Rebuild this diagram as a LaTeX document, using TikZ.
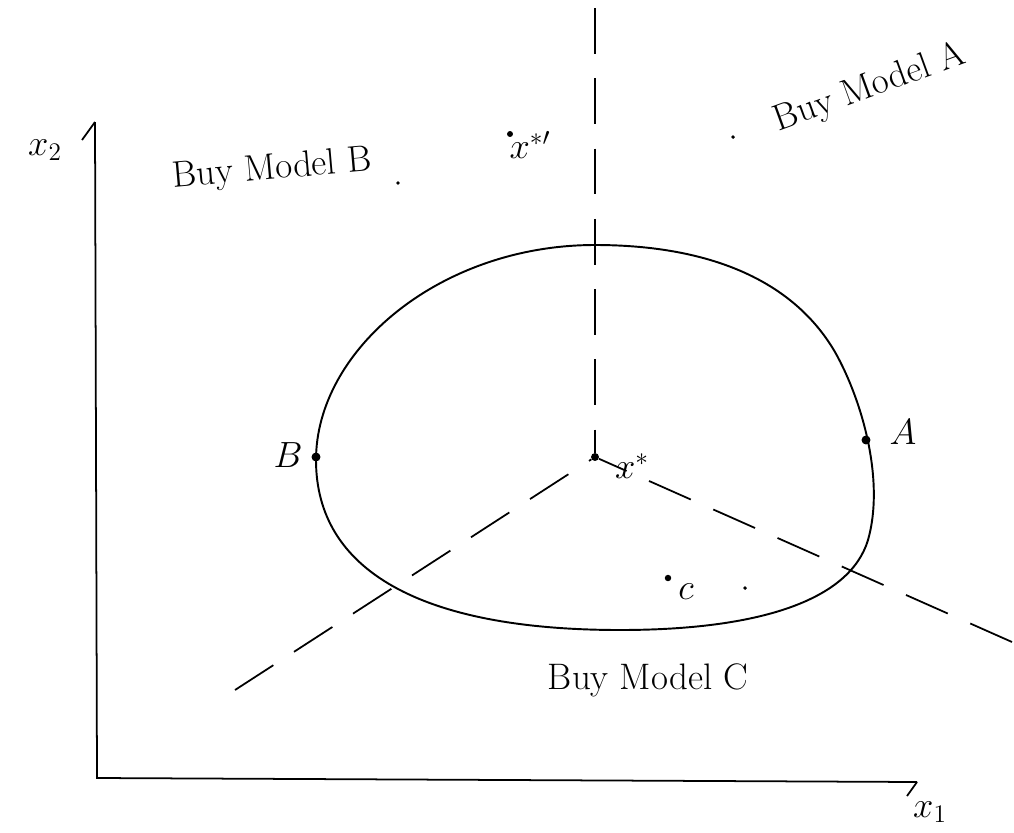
\documentclass[tikz,border=0pt]{standalone}
\begin{document}
\begin{tikzpicture}[x=0.02cm,y=-0.02cm,
  axis/.style={line width=1pt},
  guide/.style={line width=1pt,dash pattern=on 26pt off 14pt},
  region/.style={line width=1.1pt},
  lbl/.style={font=\fontsize{20}{24}\selectfont},
  big/.style={font=\fontsize{21}{25}\selectfont},
  pt/.style={circle,fill,inner sep=1.6pt}]
\useasboundingbox (0,0) rectangle (1014,832);
% axes
\coordinate (O) at (97,778);
\coordinate (ytop) at (95,122);
\coordinate (xend) at (917,782);
\draw[axis] (ytop) -- (O) -- (xend);
\draw[axis] (ytop) -- (82,140);
\draw[axis] (xend) -- (907,796);
\node[lbl] (x2) at (45,150) {$x_2$};
\node[lbl] (x1) at (930,812) {$x_1$};
% centre and dividing lines
\node[pt] (xs) at (595,457) {};
\coordinate (vtop) at (595,8);
\coordinate (lend) at (235,690);
\coordinate (rend) at (1012,642);
\draw[guide] (vtop) -- (xs);
\draw[guide] (lend) -- (xs);
\draw[guide] (rend) -- (xs);
\node[lbl] (xsl) at (632,466) {$x^*$};
% region boundary
\draw[region] (595,245) .. controls (440,245) and (316,350) .. (316,460)
  .. controls (316,570) and (420,630) .. (620,630)
  .. controls (760,630) and (850,600) .. (868,540)
  .. controls (885,480) and (862,400) .. (835,352)
  .. controls (790,275) and (700,245) .. cycle;
% points
\node[circle,draw,fill,inner sep=1.5pt,line width=0.8pt] (B) at (316,457) {};
\node[lbl] (Bl) at (288,455) {$B$};
\node[circle,draw,fill,inner sep=1.5pt,line width=0.8pt] (A) at (866,440) {};
\node[lbl] (Al) at (903,432) {$A$};
\node[pt,inner sep=1.3pt] (C) at (668,578) {};
\node[lbl] (Cl) at (686,592) {$c$};
\node[circle,fill,inner sep=0.8pt] (d1) at (745,588) {};
% x*' point
\node[circle,fill,inner sep=1.2pt] (xp) at (510,134) {};
\node[lbl] (xpl) at (530,145) {$x^{*\prime}$};
% region labels
\node[big,rotate=5] (LB) at (272,170) {Buy Model B};
\node[circle,fill,inner sep=0.8pt] (dB) at (398,183) {};
\node[big,rotate=20] (LA) at (870,88) {Buy Model A};
\node[circle,fill,inner sep=0.8pt] (dA) at (733,137) {};
\node[big] (LC) at (648,680) {Buy Model C};
\end{tikzpicture}
\end{document}
